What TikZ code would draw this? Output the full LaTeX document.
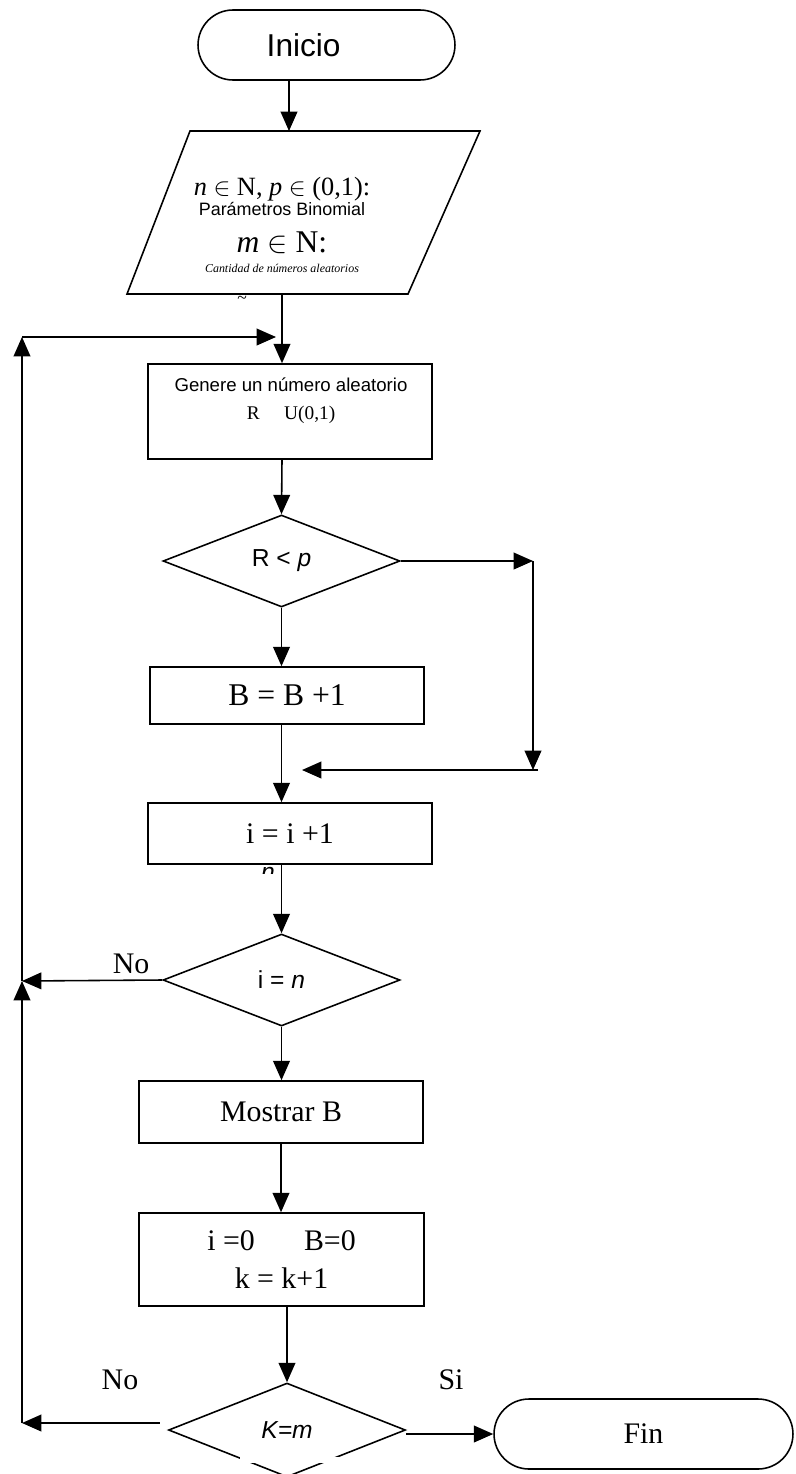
\documentclass[tikz,border=0pt]{standalone}
\usepackage{fontspec}
\setmainfont{Liberation Serif}
\newfontfamily\helv{Liberation Sans}
\usetikzlibrary{shapes.geometric,shapes.misc,arrows.meta}
\tikzset{caja/.style={draw, rectangle, inner sep=0pt, minimum width=5.68cm}}
\tikzset{decision/.style={draw, diamond, inner sep=0pt, minimum width=4.74cm, minimum height=1.84cm}}
\tikzset{terminal/.style={draw, rounded rectangle, inner sep=0pt, minimum height=1.4cm}}
\tikzset{etiqueta/.style={font=\fontsize{17}{19}\selectfont, inner sep=0pt}}

\begin{document}
\begin{tikzpicture}[x=0.02cm, y=-0.02cm, line width=0.9pt, >={Triangle[length=11pt,width=9.5pt]}]
	\useasboundingbox (0,0) rectangle (795,1474);
	\node[terminal, minimum width=5.14cm, font=\helv\fontsize{18}{20}\selectfont] (inicio) at (326.5,45) {Inicio\hspace*{26pt}};
	% datos de entrada
	\draw (190,131) -- (480,131) -- (408,294) -- (127,294) -- cycle;
	\coordinate (datos-in) at (289,131);
	\coordinate (datos-out) at (282,294);
	\node[align=center, anchor=north, inner sep=0pt, font=\fontsize{11}{11.4}\selectfont] (datos) at (282,176) {{\fontsize{15}{15}\selectfont \textit{n} $\in$ N, \textit{p} $\in$ (0,1):}\\
		{\helv\fontsize{10.2}{12}\selectfont Parámetros Binomial}\\[8.5pt]
		{\fontsize{18}{18}\selectfont \textit{m} $\in$ N:}\\
		{\fontsize{6.8}{8}\selectfont\itshape Cantidad de números aleatorios}};
	\node[inner sep=0pt, font=\fontsize{10}{10}\selectfont] (tilde) at (242,300) {\textasciitilde};
	% generar
	\node[caja, minimum height=1.9cm] (genera) at (290,411.5) {};
	\node[align=center, anchor=north, inner sep=0pt, font=\fontsize{10.6}{16}\selectfont] (genera-txt) at (291,377) {{\helv Genere un número aleatorio}\\
		{\fontsize{11}{12}\selectfont R\hspace{14pt}U(0,1)}};
	\node[decision, font=\helv\fontsize{14}{16}\selectfont] (cond) at (281.5,561) {R < \textit{p}};
	\node[caja, minimum width=5.48cm, minimum height=1.14cm, font=\fontsize{18}{20}\selectfont] (suma) at (287,695.5) {B = B +1};
	\node[caja, minimum height=1.22cm, font=\fontsize{17}{19}\selectfont] (incr) at (290,833.5) {i = i +1};
	\begin{scope}
		\clip (255,865) rectangle (285,873);
		\node[inner sep=0pt, font=\helv\itshape\fontsize{14}{14}\selectfont] (resto) at (268,874) {n};
	\end{scope}
	\node[decision, font=\helv\fontsize{14}{16}\selectfont] (condn) at (281.5,980) {i = \textit{n}};
	\node[caja, minimum height=1.24cm, font=\fontsize{17}{19}\selectfont] (mostrar) at (281,1112) {Mostrar B};
	\node[caja, minimum width=5.7cm, minimum height=1.86cm, align=center, font=\fontsize{17}{21.6}\selectfont] (reinicio) at (281.5,1259.5) {i =0\hspace{28pt}B=0\\ k = k+1};
	\node[decision, minimum height=1.88cm, font=\helv\itshape\fontsize{14}{16}\selectfont] (condk) at (287,1430) {K=m};
	\fill[white] (240,1456.5) rectangle (345,1462.5);
	\node[terminal, minimum width=5.98cm, font=\fontsize{17}{19}\selectfont] (fin) at (643.5,1434) {Fin};
	% puntos de quiebre
	\coordinate (der1) at (533,561);
	\coordinate (der2) at (533,770);
	\coordinate (union) at (302,770);
	\coordinate (izq2) at (22,981);
	\coordinate (izq3) at (22,1423);
	\coordinate (retorno) at (22,337);
	\coordinate (entrada) at (276,337);
	% flechas
	\draw[->] (inicio.south -| datos-in) -- (datos-in);
	\draw[->] (datos-out) -- (datos-out |- genera.north);
	\draw[->] (genera.south -| datos-out) -- (cond.north);
	\draw[->] (cond.south) -- (cond.south |- suma.north);
	\draw[->] (suma.south -| cond.south) -- (cond.south |- incr.north);
	\draw[->] (incr.south -| cond.south) -- (condn.north);
	\draw[->] (cond.east) -- (der1);
	\draw[->] (der1) -- (der2);
	\draw[->] ([xshift=0.1cm]der2) -- (union);
	\draw[->] (condn.west) -- (izq2);
	\draw[->] (condn.south) -- (condn.south |- mostrar.north);
	\draw[->] (mostrar.south) -- (mostrar.south |- reinicio.north);
	\draw[->] (reinicio.south -| condk.north) -- (condk.north);
	\draw[->] ([shift={(-8,-7)}]condk.west) -- (izq3);
	\draw[->] (izq3) -- (izq2);
	\draw[->] (izq2) -- (retorno);
	\draw[->] (retorno) -- (entrada);
	\draw[->] (condk.east |- fin.west) -- (fin.west);
	\node[etiqueta, anchor=base] (no1) at (131,973) {No};
	\node[etiqueta, anchor=base] (no2) at (120,1389) {No};
	\node[etiqueta, anchor=base] (si) at (451,1389) {Si};
\end{tikzpicture}
\end{document}
